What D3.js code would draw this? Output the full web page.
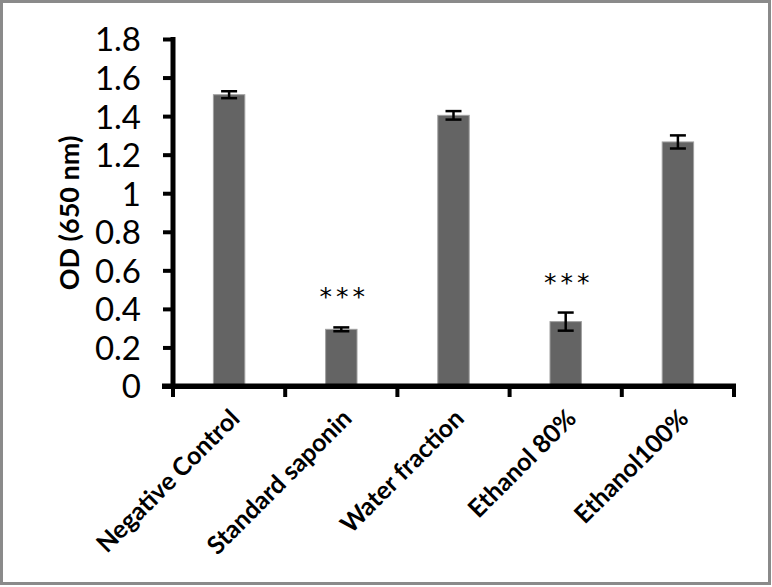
<!DOCTYPE html>
<html>
<head>
<meta charset="utf-8">
<script src="https://cdn.jsdelivr.net/npm/d3@7"></script>
<style>
  body { margin: 0; background: #fff; }
  svg { display: block; }
</style>
</head>
<body>
<div id="chart"></div>
<script>
// data
var categories = ["Negative Control", "Standard saponin", "Water fraction", "Ethanol 80%", "Ethanol100%"];
var odValues = [1.511, 0.294, 1.404, 0.334, 1.266];
var odErrors = [0.018, 0.010, 0.022, 0.047, 0.034];
var signif = ["", "***", "", "***", ""];
var yTicks = [0, 0.2, 0.4, 0.6, 0.8, 1, 1.2, 1.4, 1.6, 1.8];

var W = 772, H = 587;
var margin = {top: 39, right: 38, bottom: 201, left: 173};
var width = W - margin.left - margin.right,
    height = H - margin.top - margin.bottom;
var font = "Lato, 'Open Sans', sans-serif";

var svg = d3.select("#chart")
  .append("svg")
    .attr("width", W)
    .attr("height", H);

// grey frame round the picture
svg.append("rect")
  .attr("x", 1.5).attr("y", 1.5)
  .attr("width", W - 4).attr("height", H - 5)
  .attr("fill", "none")
  .attr("stroke", "#8a8a8a")
  .attr("stroke-width", 3);

var g = svg.append("g")
  .attr("transform", "translate(" + margin.left + "," + margin.top + ")");

var x = d3.scaleBand().domain(categories).range([0, width]).paddingInner(0.72).paddingOuter(0.36);
var y = d3.scaleLinear().domain([0, 1.8]).range([height, 0]);

// bars
g.selectAll(".bar")
  .data(odValues)
  .enter()
  .append("rect")
    .attr("class", "bar")
    .attr("x", function(d, i) { return x(categories[i]); })
    .attr("y", function(d) { return y(d); })
    .attr("width", x.bandwidth())
    .attr("height", function(d) { return y(0) - y(d); })
    .attr("fill", "#646464")
    .attr("stroke", "#a0a0a0")
    .attr("stroke-width", 1);

// error bars
var cap = 8;
var eb = g.selectAll(".err")
  .data(odValues)
  .enter()
  .append("g")
    .attr("class", "err")
    .style("stroke", "#000")
    .style("stroke-width", "2.5px");

eb.append("line")
  .attr("x1", function(d, i) { return x(categories[i]) + x.bandwidth() / 2; })
  .attr("x2", function(d, i) { return x(categories[i]) + x.bandwidth() / 2; })
  .attr("y1", function(d, i) { return y(d + odErrors[i]); })
  .attr("y2", function(d, i) { return y(d - odErrors[i]); });
eb.append("line")
  .attr("x1", function(d, i) { return x(categories[i]) + x.bandwidth() / 2 - cap; })
  .attr("x2", function(d, i) { return x(categories[i]) + x.bandwidth() / 2 + cap; })
  .attr("y1", function(d, i) { return y(d + odErrors[i]); })
  .attr("y2", function(d, i) { return y(d + odErrors[i]); });
eb.append("line")
  .attr("x1", function(d, i) { return x(categories[i]) + x.bandwidth() / 2 - cap; })
  .attr("x2", function(d, i) { return x(categories[i]) + x.bandwidth() / 2 + cap; })
  .attr("y1", function(d, i) { return y(d - odErrors[i]); })
  .attr("y2", function(d, i) { return y(d - odErrors[i]); });

// significance stars
g.selectAll(".star")
  .data(odValues)
  .enter()
  .append("text")
    .attr("class", "star")
    .attr("x", function(d, i) { return x(categories[i]) + x.bandwidth() / 2 + 3; })
    .attr("y", function(d, i) { return y(d + odErrors[i]) - 22; })
    .attr("text-anchor", "middle")
    .style("font-family", "'DejaVu Sans', sans-serif")
    .style("font-size", "25px")
    .style("letter-spacing", "4px")
    .text(function(d, i) { return signif[i]; });

// y axis
var yAxis = g.append("g")
  .call(d3.axisLeft(y).tickValues(yTicks).tickSize(10).tickPadding(22)
    .tickFormat(function(d) { return d3.format("")(d); }));
yAxis.select(".domain").remove();
yAxis.selectAll(".tick line").style("stroke", "#000").style("stroke-width", "4px");
yAxis.selectAll(".tick text")
  .style("font-family", font)
  .style("font-size", "33px")
  .attr("dy", "0.36em")
  .attr("fill", "#000");
// heavy axis line
g.append("rect")
  .attr("x", -2.5).attr("y", y(1.8) - 2)
  .attr("width", 5).attr("height", y(0) - y(1.8) + 5)
  .attr("fill", "#000");

// x axis, ticks on band edges
var edges = categories.map(function(c) { return x(c) - x.step() * x.paddingInner() / 2; });
edges.push(width);
var xAxis = g.append("g")
  .attr("transform", "translate(0," + height + ")");
xAxis.append("rect")
  .attr("x", -11).attr("y", -2.5)
  .attr("width", width + 13).attr("height", 5.5)
  .attr("fill", "#000");
xAxis.selectAll(".xtick")
  .data(edges)
  .enter()
  .append("line")
    .attr("x1", function(d) { return d; })
    .attr("x2", function(d) { return d; })
    .attr("y1", 0).attr("y2", 11)
    .style("stroke", "#000").style("stroke-width", "4px");

xAxis.selectAll(".xlabel")
  .data(categories)
  .enter()
  .append("text")
    .attr("class", "xlabel")
    .attr("transform", function(d) {
      return "translate(" + (x(d) + x.bandwidth() / 2 + 12) + ",34) rotate(-45)";
    })
    .attr("text-anchor", "end")
    .style("font-family", font)
    .style("font-weight", "bold")
    .style("font-size", "25px")
    .text(function(d) { return d; });

// y axis title
svg.append("text")
  .attr("transform", "translate(79," + (margin.top + 174) + ") rotate(-90)")
  .attr("text-anchor", "middle")
  .style("font-family", font)
  .style("font-weight", "bold")
  .style("font-size", "27px")
  .text("OD (650 nm)");
</script>
</body>
</html>
